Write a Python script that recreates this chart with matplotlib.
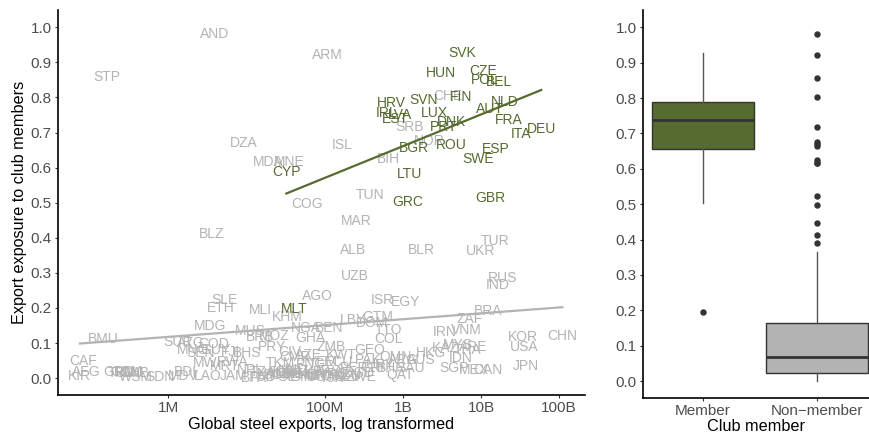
import numpy as np
import matplotlib
matplotlib.use('Agg')
import matplotlib.pyplot as plt
from matplotlib import cbook

plt.rcParams['font.family'] = ['Liberation Sans', 'DejaVu Sans']

MEMBER_GREEN = '#556B2F'
NONMEMBER_GREY = '#B3B3B3'
AXIS_TEXT = '#4D4D4D'

# Club members: ISO code, log10 of global steel exports, export exposure to club
member_codes = ['SVK', 'HUN', 'CZE', 'POL', 'BEL', 'FIN', 'SVN', 'HRV', 'LUX', 'NLD',
                'AUT', 'IRL', 'LVA', 'EST', 'DNK', 'PRT', 'FRA', 'DEU', 'ITA', 'BGR',
                'ROU', 'ESP', 'SWE', 'LTU', 'GRC', 'GBR', 'CYP', 'MLT']
member_log_exports = [9.76, 9.49, 10.03, 10.05, 10.23, 9.74, 9.27, 8.85, 9.41, 10.31,
                      10.11, 8.79, 8.97, 8.91, 9.62, 9.52, 10.36, 10.77, 10.51, 9.14,
                      9.62, 10.19, 9.96, 9.08, 9.06, 10.12, 7.51, 7.61]
member_exposure = [0.927, 0.870, 0.876, 0.849, 0.844, 0.801, 0.792, 0.783, 0.757, 0.787,
                   0.766, 0.756, 0.749, 0.738, 0.730, 0.716, 0.737, 0.709, 0.695, 0.657,
                   0.664, 0.654, 0.624, 0.583, 0.502, 0.514, 0.587, 0.196]

# Everyone else
nonmember_codes = ['AND', 'STP', 'ARM', 'DZA', 'MDA', 'MNE', 'ISL', 'CHE', 'SRB', 'NOR',
                   'BIH', 'COG', 'TUN', 'MAR', 'BLZ', 'TUR', 'ALB', 'BLR', 'UKR', 'UZB',
                   'RUS', 'IND', 'AGO', 'ISR', 'EGY', 'SLE', 'ETH', 'MLI', 'KHM', 'BRA',
                   'ZAF', 'GTM', 'LBY', 'DOM', 'VNM', 'IRN', 'KOR', 'CHN', 'USA', 'JPN',
                   'MDG', 'MUS', 'BMU', 'CAF', 'KIR', 'AFG', 'GRD', 'COM', 'GNB', 'WSM',
                   'SDN', 'MDV', 'SUR', 'ATG', 'COD', 'BRB', 'MOZ', 'NGA', 'BEN', 'GHA',
                   'TTO', 'COL', 'PRY', 'ZMB', 'GEO', 'KAZ', 'MYS', 'THA', 'HKG', 'IDN',
                   'AUS', 'ARG', 'SGP', 'MEX', 'CAN', 'QAT', 'PER', 'CRI', 'BHR', 'SAU',
                   'UGA', 'SLV', 'ZWE', 'KWT', 'AZE', 'CIV', 'TKM', 'SEN', 'FJI', 'BHS',
                   'MNG', 'GUY', 'MWI', 'RWA', 'MRT', 'BDI', 'LAO', 'JAM', 'NPL', 'TZA',
                   'NAM', 'JOR', 'HND', 'KEN', 'LKA', 'NIC', 'BWA', 'PNG', 'YEM', 'ECU',
                   'PAK', 'URY', 'OMN', 'ARE', 'CMR', 'TCD', 'BFA', 'TUV', 'PLW',
                   'SOM', 'PSE', 'LBR', 'KGZ', 'GIN', 'NER', 'SYR', 'TJK', 'IRQ',
                   'LBN', 'BGD']
nonmember_log_exports = [6.59, 5.21, 8.03, 6.96, 7.28, 7.55, 8.23, 9.57, 9.09, 9.34,
                         8.82, 7.77, 8.58, 8.40, 6.56, 10.18, 8.37, 9.24, 10.00, 8.38,
                         10.27, 10.21, 7.91, 8.74, 9.03, 6.72, 6.67, 7.18, 7.52, 10.09,
                         9.85, 8.68, 8.36, 8.61, 9.81, 9.54, 10.53, 11.04, 10.55, 10.57,
                         6.54, 7.05, 5.17, 4.91, 4.87, 4.95, 5.36, 5.46, 5.56, 5.58,
                         5.90, 6.19, 6.13, 6.29, 6.58, 7.18, 7.35, 7.76, 8.06, 7.82,
                         8.82, 8.82, 7.33, 8.08, 8.57, 9.55, 9.70, 9.83, 9.36, 9.74,
                         9.23, 9.00, 9.65, 9.91, 10.09, 8.97, 8.38, 8.61, 8.85, 9.10,
                         7.95, 8.28, 8.46, 8.21, 7.79, 7.56, 7.44, 6.41, 6.79, 7.01,
                         6.32, 6.60, 6.50, 6.82, 6.72, 6.22, 6.51, 6.83, 7.05, 7.21,
                         7.33, 7.46, 7.59, 7.69, 7.82, 7.92, 8.05, 7.82, 7.97, 8.18,
                         8.56, 8.72, 8.91, 9.90, 7.62, 7.20, 7.10, 5.40, 5.50,
                         7.40, 7.48, 7.55, 7.62, 7.70, 7.85, 8.00, 8.10, 8.15,
                         8.30, 8.45]
nonmember_exposure = [0.982, 0.857, 0.921, 0.669, 0.615, 0.615, 0.665, 0.804, 0.717, 0.676,
                      0.624, 0.497, 0.523, 0.447, 0.412, 0.390, 0.365, 0.366, 0.363, 0.291,
                      0.286, 0.265, 0.235, 0.222, 0.217, 0.224, 0.201, 0.194, 0.174, 0.191,
                      0.169, 0.174, 0.165, 0.157, 0.137, 0.132, 0.118, 0.120, 0.089, 0.035,
                      0.149, 0.134, 0.113, 0.049, 0.006, 0.018, 0.018, 0.018, 0.016, 0.004,
                      0.003, 0.006, 0.103, 0.100, 0.097, 0.117, 0.120, 0.142, 0.142, 0.114,
                      0.138, 0.112, 0.090, 0.090, 0.081, 0.085, 0.095, 0.081, 0.071, 0.057,
                      0.051, 0.052, 0.028, 0.024, 0.024, 0.009, 0.028, 0.028, 0.028, 0.028,
                      0.002, 0.003, 0.003, 0.066, 0.066, 0.074, 0.043, 0.071, 0.074, 0.071,
                      0.080, 0.080, 0.043, 0.046, 0.034, 0.017, 0.005, 0.006, 0.023, 0.017,
                      0.011, 0.017, 0.023, 0.011, 0.017, 0.006, 0.017, 0.040, 0.046, 0.046,
                      0.051, 0.037, 0.060, 0.088, 0.060, 0.002, 0.000, 0.016, 0.015,
                      0.008, 0.002, 0.012, 0.020, 0.004, 0.010, 0.006, 0.001, 0.012,
                      0.008, 0.015]

# Non-member box summary (lower whisker, Q1, median, Q3, upper whisker)
nonmember_box = [0.0, 0.022, 0.067, 0.165, 0.366]

group_labels = ['Member', 'Non\u2212member']
x_tick_values = [6, 8, 9, 10, 11]
x_tick_labels = ['1M', '100M', '1B', '10B', '100B']


def style_axes(ax):
    for side in ('top', 'right'):
        ax.spines[side].set_visible(False)
    for side in ('left', 'bottom'):
        ax.spines[side].set_color('black')
        ax.spines[side].set_linewidth(1.2)
    ax.tick_params(length=2.5, width=0.8, color='#333333', labelcolor=AXIS_TEXT,
                   labelsize=11, pad=2)
    ax.set_facecolor('white')


def draw_fit(ax, xs, ys, color):
    xs = np.asarray(xs)
    slope, intercept = np.polyfit(xs, ys, 1)
    grid = np.array([xs.min(), xs.max()])
    ax.plot(grid, intercept + slope * grid, color=color, lw=1.6, zorder=4)


fig = plt.figure(figsize=(8.7, 4.36), dpi=100)

# --- scatter of labelled countries ---
ax = fig.add_axes([0.0667, 0.094, 0.6057, 0.883])
for code, x, y in zip(nonmember_codes, nonmember_log_exports, nonmember_exposure):
    ax.text(x, y, code, color=NONMEMBER_GREY, fontsize=10, ha='center', va='center', zorder=2)
for code, x, y in zip(member_codes, member_log_exports, member_exposure):
    ax.text(x, y, code, color=MEMBER_GREEN, fontsize=10, ha='center', va='center', zorder=3)

draw_fit(ax, nonmember_log_exports, nonmember_exposure, NONMEMBER_GREY)
draw_fit(ax, member_log_exports, member_exposure, MEMBER_GREEN)

ax.set_xlim(4.59, 11.33)
ax.set_ylim(-0.048, 1.049)
ax.set_xticks(x_tick_values)
ax.set_xticklabels(x_tick_labels)
ax.set_yticks(np.arange(0, 1.01, 0.1))
ax.set_yticklabels([f'{v:.1f}' for v in np.arange(0, 1.01, 0.1)])
style_axes(ax)
ax.set_xlabel('Global steel exports, log transformed', fontsize=11.7, color='black')
ax.set_ylabel('Export exposure to club members', fontsize=11.7, color='black')
ax.xaxis.set_label_coords(0.5, -0.057)
ax.yaxis.set_label_coords(-0.059, 0.5)

# --- boxplots by membership ---
bx = fig.add_axes([0.739, 0.0872, 0.261, 0.890])
member_stats = cbook.boxplot_stats(member_exposure)[0]
lo, q1, med, q3, hi = nonmember_box
nonmember_stats = {
    'whislo': lo, 'q1': q1, 'med': med, 'q3': q3, 'whishi': hi,
    'fliers': [v for v in nonmember_exposure if v > hi or v < lo],
}
bp = bx.bxp([member_stats, nonmember_stats], positions=[1, 2], widths=0.9,
            patch_artist=True, showcaps=False,
            boxprops=dict(edgecolor='#333333', linewidth=1.0),
            medianprops=dict(color='#333333', linewidth=2.0),
            whiskerprops=dict(color='#555555', linewidth=1.0),
            flierprops=dict(marker='o', markerfacecolor='#333333',
                            markeredgecolor='#333333', markersize=3.6))
for patch, fill in zip(bp['boxes'], [MEMBER_GREEN, NONMEMBER_GREY]):
    patch.set_facecolor(fill)

bx.set_xlim(0.47, 2.47)
bx.set_ylim(-0.048, 1.049)
bx.set_xticks([1, 2])
bx.set_xticklabels(group_labels)
bx.set_yticks(np.arange(0, 1.01, 0.1))
bx.set_yticklabels([f'{v:.1f}' for v in np.arange(0, 1.01, 0.1)])
style_axes(bx)
bx.set_xlabel('Club member', fontsize=11.7, color='black')
bx.xaxis.set_label_coords(0.5, -0.054)

fig.savefig('out.png', dpi=100, facecolor='white')
